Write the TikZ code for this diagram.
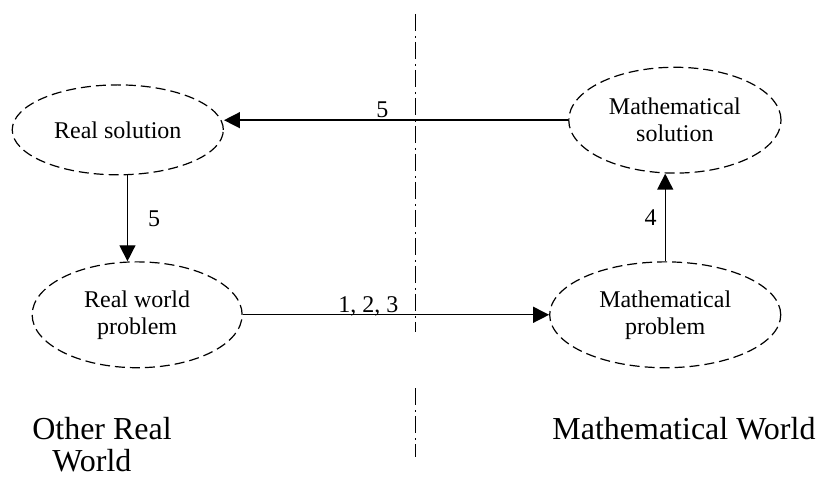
\documentclass[tikz,border=0pt]{standalone}
\usepackage{fontspec}
\setmainfont{Liberation Serif}
\usetikzlibrary{positioning, arrows.meta, calc, shapes.geometric}

\begin{document}
\begin{tikzpicture}[every node/.style={font=\fontsize{12}{13.5}\selectfont},
        stage/.style={draw, ellipse, line width=0.6pt, dash pattern=on 5pt off 2.5pt, inner sep=1pt, align=center, minimum height=1.86cm},
        arr/.style={-{Triangle[length=8pt, width=8pt]}, line width=0.7pt},
        num/.style={inner sep=1pt, text depth=0pt},
        divider/.style={line width=0.5pt, dash pattern=on 8.5pt off 2.5pt on 1pt off 2pt},
        world/.style={font=\fontsize{16}{16}\selectfont, align=left, anchor=base west, inner sep=0pt}]
        \useasboundingbox (0,0) rectangle (14.375,8.382);

        % Left -- real world
        \node[stage, minimum width=3.71cm, minimum height=1.58cm] (rs) at (2.07,6.10) {Real solution};
        \node[stage, minimum width=3.69cm] (rw) at (2.41,2.85) {Real world\\problem};
        \node[world] (otherWorld) at (0.56,0.10) {Other Real\\\hspace*{10pt}World};

        % Right -- mathematical world
        \node[stage, minimum width=3.73cm] (ms) at (11.86,6.27) {Mathematical\\solution};
        \node[stage, minimum width=4.06cm] (mp) at (11.69,2.85) {Mathematical\\problem};
        \node[world] (mathWorld) at (9.70,0.66) {Mathematical World};

        % Divider between the two worlds
        \coordinate (dTop) at (7.30,8.14);
        \coordinate (dGapA) at (7.30,2.55);
        \coordinate (dGapB) at (7.30,1.56);
        \coordinate (dBot) at (7.30,0.35);
        \draw[divider] (dTop) -- (dGapA);
        \draw[divider] (dGapB) -- (dBot);

        % Modelling cycle
        \draw[arr] (rw.east) -- node[num, above, pos=.41] (lFormulate) {1, 2, 3} (mp.west);
        \draw[arr] (mp.north) -- node[num, left=3pt] (lSolve) {4} (mp.north |- ms.south);
        \draw[arr] (ms.west) -- node[num, above, pos=.54] (lInterpret) {5} (ms.west -| rs.east);
        \coordinate (mid) at ($(rs.south)!.5!(rw.north)$);
        \draw[arr] (rs.south -| mid) -- node[num, right=9pt] (lValidate) {5} (rw.north -| mid);
\end{tikzpicture}
\end{document}
